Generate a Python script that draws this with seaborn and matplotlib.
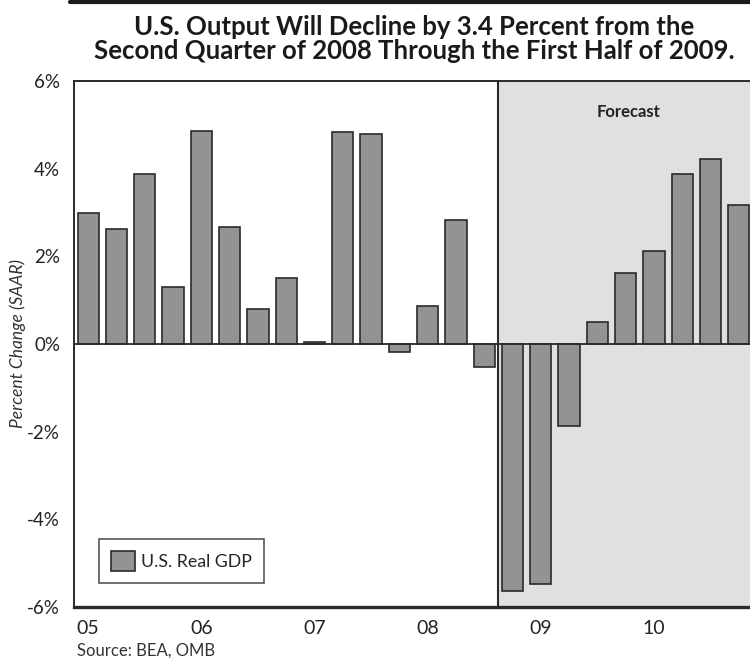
"""Quarterly U.S. real GDP growth with forecast shading."""
import matplotlib
matplotlib.use('Agg')
import matplotlib.pyplot as plt
import pandas as pd
import seaborn as sns

quarters = ['2005Q1', '2005Q2', '2005Q3', '2005Q4',
            '2006Q1', '2006Q2', '2006Q3', '2006Q4',
            '2007Q1', '2007Q2', '2007Q3', '2007Q4',
            '2008Q1', '2008Q2', '2008Q3', '2008Q4',
            '2009Q1', '2009Q2', '2009Q3', '2009Q4',
            '2010Q1', '2010Q2', '2010Q3', '2010Q4']
gdp_change = [2.98, 2.62, 3.87, 1.31,
              4.86, 2.68, 0.80, 1.51,
              0.04, 4.83, 4.78, -0.18,
              0.87, 2.84, -0.53, -5.63,
              -5.47, -1.86, 0.50, 1.63,
              2.12, 3.88, 4.21, 3.17]
year_labels = ['05', '06', '07', '08', '09', '10']
y_ticks = [-6, -4, -2, 0, 2, 4, 6]
first_forecast = '2008Q4'

df = pd.DataFrame({'quarter': quarters, 'gdp': gdp_change})

sns.set_style('white')
plt.rcParams['font.family'] = ['Lato', 'DejaVu Sans']

fig = plt.figure(figsize=(7.5, 6.58), dpi=100)
ax = fig.add_axes([74 / 750, 1 - 607 / 658, 679 / 750, 526 / 658])

ax.set_xlim(-0.5, len(quarters) - 0.5)
ax.set_ylim(-6, 6)

split = quarters.index(first_forecast) - 0.5
ax.axvspan(split, len(quarters) - 0.5, color='#e0e0e2', zorder=0, lw=0)
ax.axvline(split, color='#2a2a2a', lw=1.5, zorder=1)

sns.barplot(data=df, x='quarter', y='gdp', ax=ax, color='#939396',
            saturation=1, width=0.75, edgecolor='#2a2a2a', linewidth=1.2,
            label='U.S. Real GDP', zorder=2)
ax.axhline(0, color='#2a2a2a', lw=1.3, zorder=3)

ax.set_xticks(range(0, len(quarters), 4))
ax.set_xticklabels(year_labels, fontsize=14, color='#222222')
ax.set_yticks(y_ticks)
ax.set_yticklabels(['%d%%' % v for v in y_ticks], fontsize=13.5,
                   color='#222222')
ax.tick_params(axis='x', length=0, pad=9)
ax.tick_params(axis='y', length=0, pad=10)
ax.set_xlabel('')
ax.set_ylabel('Percent Change (SAAR)', fontsize=12.5, style='italic',
              color='#333333', labelpad=1)

for side in ['left', 'top']:
    ax.spines[side].set_color('#2a2a2a')
    ax.spines[side].set_linewidth(1.4)
ax.spines['bottom'].set_color('#2a2a2a')
ax.spines['bottom'].set_linewidth(2.4)
ax.spines['right'].set_visible(False)

ax.text(19.1, 5.3, 'Forecast', ha='center', va='center', fontsize=12,
        fontweight='bold', color='#222222')

leg = ax.legend(loc='lower left', bbox_to_anchor=(25 / 679, 24 / 526),
                borderaxespad=0, fontsize=12.8, frameon=True,
                fancybox=False, handlelength=1.3, handleheight=1.3,
                borderpad=0.7, handletextpad=0.35)
leg.get_frame().set_edgecolor('#2a2a2a')
leg.get_frame().set_linewidth(1.2)

fig.add_artist(plt.Line2D([70 / 750, 1], [1 - 1.5 / 658, 1 - 1.5 / 658],
                          color='#1a1a1a', lw=3))
fig.text(414 / 750, 1 - 35 / 658,
         'U.S. Output Will Decline by 3.4 Percent from the',
         ha='center', va='baseline', fontsize=18.5, fontweight='bold',
         color='#1a1a1a')
fig.text(414 / 750, 1 - 59 / 658,
         'Second Quarter of 2008 Through the First Half of 2009.',
         ha='center', va='baseline', fontsize=18.5, fontweight='bold',
         color='#1a1a1a')
fig.text(77 / 750, 1 - 651 / 658, 'Source: BEA, OMB', ha='left',
         va='center', fontsize=12, color='#333333')

fig.savefig('out.png', dpi=100)
